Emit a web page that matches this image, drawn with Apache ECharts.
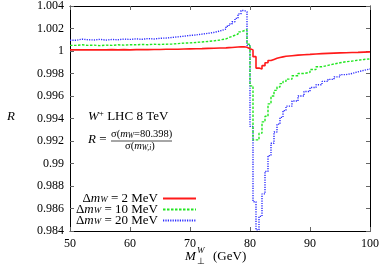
<!DOCTYPE html>
<html><head><meta charset="utf-8">
<script src="https://cdn.jsdelivr.net/npm/echarts@6/dist/echarts.min.js"></script>
<style>html,body{margin:0;padding:0;background:#fff}#c{width:382px;height:268px}</style>
</head><body><div id="c"></div>
<script>
// bin left edges (GeV); last edge closes the histogram
const binEdges = [50,51,52,53,54,55,56,57,58,59,60,61,62,63,64,65,66,67,68,69,70,71,72,73,74,75,76,
  76.5,77,77.5,78,78.5,79,79.5,80,80.5,81,81.5,82,82.5,83,83.5,84,84.5,85,85.5,
  86,87,88,89,90,91,92,93,94,95,96,97,98,99,100];
const seriesNames = ['dm2', 'dm10', 'dm20'];
const legendLabels = ['2 MeV', '10 MeV', '20 MeV'];
const r2 = [1.0001,1.0001,1.0001,1.0001,1.0001,1.0001,1.00012,1.0001,1.00012,1.0001,1.00012,1.00013,1.00012,1.00013,1.00014,1.00015,1.00015,1.00016,1.00018,1.00019,1.0002,1.00021,1.00023,1.00024,1.00026,1.00028,1.0003,
  1.00031,1.00033,1.00035,1.00037,1.00038,1.00033,1.0002,1.0001,0.9995,0.99848,0.9984,0.9987,0.99895,0.99915,0.99925,0.99935,0.99942,0.99948,0.99953,
  0.99958,0.99963,0.99967,0.9997,0.99974,0.99977,0.99979,0.99981,0.99983,0.99985,0.99987,0.99988,0.9999,0.99992];
const r10 = [1.0005,1.00055,1.0005,1.00052,1.00048,1.00052,1.0005,1.00055,1.00052,1.00056,1.00055,1.00058,1.00056,1.0006,1.00058,1.0006,1.00062,1.00066,1.0007,1.00072,1.00076,1.0008,1.00085,1.0009,1.00098,1.00108,1.0012,
  1.0013,1.0014,1.0015,1.0017,1.0018,1.0019,1.0006,0.9969,0.9921,0.9921,0.9927,0.9937,0.9942,0.9953,0.996,0.9965,0.9968,0.9971,0.9973,
  0.9975,0.9978,0.998,0.9981,0.99835,0.9986,0.99872,0.99885,0.99895,0.99905,0.9991,0.99918,0.99925,0.9993];
const r20 = [1.00095,1.00105,1.001,1.00098,1.00103,1.00097,1.00102,1.001,1.00106,1.00103,1.00108,1.00104,1.0011,1.00107,1.00113,1.00115,1.0012,1.00126,1.00132,1.00138,1.00143,1.0015,1.00157,1.00165,1.00178,1.00195,1.0022,
  1.0024,1.0026,1.0029,1.0033,1.0036,1.0035,1.0005,0.9933,0.9866,0.9841,0.9853,0.9873,0.9893,0.9907,0.9918,0.9928,0.9935,0.9941,0.9947,
  0.9951,0.99555,0.996,0.9964,0.99675,0.997,0.9973,0.99748,0.9977,0.9979,0.998,0.99815,0.99828,0.9984];
const xMin = 50, xMax = 100, xStep = 10;
const yMin = 0.984, yMax = 1.004, yStep = 0.002;

function pairs(vals){
  const out = vals.map((v,i)=>[binEdges[i], v]);
  out.push([binEdges[vals.length], vals[vals.length-1]]);
  return out;
}
const FONT = 'Liberation Serif';
const colors = ['#ff1a1a', '#22e622', '#2b2bff'];
const lstyles = [{width:1.6,type:'solid'},{width:1.4,type:[2.5,1.5]},{width:1.4,type:[1.2,1.2]}];
const allVals = [r2, r10, r20];

const chart = echarts.init(document.getElementById('c'), null, {renderer:'canvas'});
const axisCommon = {
  axisLine:{show:true,lineStyle:{color:'#000',width:1}},
  axisTick:{show:true,inside:true,length:4,lineStyle:{color:'#666'}},
  splitLine:{show:false}
};
const BIG = 13;
const rich = {
  t:{fontFamily:FONT,fontSize:BIG,color:'#000'},
  i:{fontFamily:FONT,fontSize:BIG,fontStyle:'italic',color:'#000'},
  s:{fontFamily:FONT,fontSize:9,fontStyle:'italic',color:'#000',verticalAlign:'bottom',padding:[7,0,0,0]}
};
const legends = seriesNames.map((n,k)=>({
  data:[n], right:185, top:192 + k*11, orient:'vertical', align:'right', padding:0,
  itemWidth:33, itemHeight:8, itemGap:0, selectedMode:false,
  itemStyle:{opacity:0},
  formatter: ()=> '{t|Δ}{i|m}{s|W}{t| = ' + legendLabels[k] + '}',
  textStyle:{rich:rich, fontFamily:FONT, fontSize:BIG, color:'#000', lineHeight:12}
}));

const fracRich = {
  a:{fontFamily:FONT,fontSize:10.5,color:'#000'},
  b:{fontFamily:FONT,fontSize:10.5,fontStyle:'italic',color:'#000'},
  c:{fontFamily:FONT,fontSize:7.5,fontStyle:'italic',color:'#000',verticalAlign:'bottom',padding:[4,0,0,0]}
};

chart.setOption({
  animation:false,
  grid:{left:70,right:10,top:5,bottom:37,show:false},
  xAxis:[
    Object.assign({type:'value',min:xMin,max:xMax,interval:xStep,position:'bottom',
      axisLabel:{fontFamily:FONT,fontSize:12,color:'#000',margin:7}}, axisCommon),
    Object.assign({type:'value',min:xMin,max:xMax,interval:xStep,position:'top',
      axisLabel:{show:false}}, axisCommon)
  ],
  yAxis:[
    Object.assign({type:'value',min:yMin,max:yMax,interval:yStep,position:'left',
      axisLabel:{fontFamily:FONT,fontSize:12,color:'#000',margin:6}}, axisCommon),
    Object.assign({type:'value',min:yMin,max:yMax,interval:yStep,position:'right',
      axisLabel:{show:false}}, axisCommon)
  ],
  legend: legends,
  series: seriesNames.map((n,k)=>({
    name:n, type:'line', step:'end', showSymbol:false, symbol:'none',
    data:pairs(allVals[k]), color:colors[k],
    lineStyle:Object.assign({color:colors[k]}, lstyles[k]), z:3-k, clip:true
  })),
  graphic:[
    {type:'text', left:7, top:110, style:{text:'R', font:'italic 13px "'+FONT+'"', fill:'#000'}},
    {type:'text', left:185, top:250, style:{text:'M', font:'italic 13px "'+FONT+'"', fill:'#000'}},
    {type:'text', left:197, top:246, style:{text:'W', font:'italic 9px "'+FONT+'"', fill:'#000'}},
    {type:'text', left:197, top:257, style:{text:'⊥', font:'9px "'+FONT+'"', fill:'#000'}},
    {type:'text', left:213, top:250, style:{text:'(GeV)', font:'13px "'+FONT+'"', fill:'#000'}},
    {type:'text', left:88, top:109, style:{text:'{i|W}{p|+}{t| LHC 8 TeV}',
      rich:Object.assign({p:{fontFamily:FONT,fontSize:9,color:'#000',verticalAlign:'top',padding:[0,0,6,0]}}, rich)}},
    {type:'text', left:88, top:133, style:{rich:rich, text:'{i|R}{t| =}'}},
    {type:'text', left:111, top:129, style:{text:'{a|σ(}{b|m}{c|W}{a|=80.398)}', rich:fracRich}},
    {type:'text', left:125, top:141, style:{text:'{a|σ(}{b|m}{c|W,i}{a|)}', rich:fracRich}},
    {type:'line', shape:{x1:111,y1:141,x2:172,y2:141}, style:{stroke:'#000',lineWidth:0.7}}
  ]
});
</script></body></html>
